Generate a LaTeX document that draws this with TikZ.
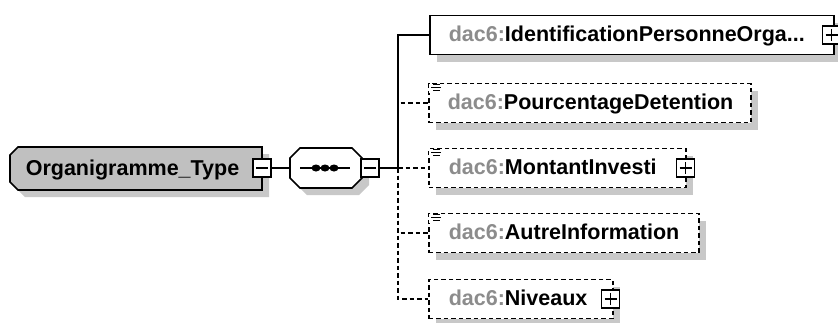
\documentclass[tikz,border=0pt]{standalone}
\usepackage{fontspec}
\setmainfont{Liberation Sans}
\usetikzlibrary{shadows}
\definecolor{prefixgray}{RGB}{140,140,140}
\definecolor{rootgray}{RGB}{192,192,192}
\definecolor{shadowgray}{RGB}{200,200,200}
\newcommand{\dac}[1]{{\color{prefixgray}dac6:}#1}

\begin{document}
\begin{tikzpicture}[x=1pt, y=-1pt, line width=1.6pt,
  every node/.style={font=\bfseries\fontsize{21.5}{24}\selectfont},
  boxshadow/.style={general shadow={fill=shadowgray, shadow xshift=7pt, shadow yshift=-7pt}},
  elem/.style={draw, fill=white, boxshadow, minimum height=39pt, inner sep=0pt, anchor=west},
  optelem/.style={elem, dash pattern=on 4.5pt off 3pt},
  eltext/.style={anchor=base west, inner sep=0pt},
  togglebox/.style={draw, fill=white, minimum size=18pt, inner sep=0pt},
  minusbox/.style={togglebox, path picture={\draw ([xshift=3pt]path picture bounding box.west) -- ([xshift=-3pt]path picture bounding box.east);}},
  plusbox/.style={togglebox, path picture={\draw ([xshift=3pt]path picture bounding box.west) -- ([xshift=-3pt]path picture bounding box.east); \draw ([yshift=3pt]path picture bounding box.south) -- ([yshift=-3pt]path picture bounding box.north);}},
  dashedline/.style={dash pattern=on 4.5pt off 3pt}]
  \useasboundingbox (0,0) rectangle (838,322);

  \draw[fill=rootgray, boxshadow] (18,147) -- (262,147) -- (262,190) -- (18,190) -- (10,182) -- (10,155) -- cycle;
  \node[eltext] (root) at (25,175) {Organigramme\_Type};
  \node[minusbox] (rootbox) at (262,168) {};

  \draw[fill=white, boxshadow] (300,148) -- (352,148) -- (362,158) -- (362,178) -- (352,188) -- (300,188) -- (290,178) -- (290,158) -- cycle;
  \coordinate (seqin) at (290,168);
  \coordinate (seqa) at (300,168);
  \coordinate (seqb) at (350,168);
  \draw (seqa) -- (seqb);
  \foreach \x in {316,325,334} \fill (\x,168) ellipse (4.5 and 3.5);
  \node[minusbox] (seqbox) at (370,168) {};
  \draw (rootbox) -- (seqin);

  \node[elem, minimum width=404pt] (ident) at (429,35) {};
  \node[optelem, minimum width=322pt] (pct) at (428,103) {};
  \node[optelem, minimum width=257pt] (montant) at (428,168) {};
  \node[optelem, minimum width=270pt] (autre) at (428,233) {};
  \node[optelem, minimum width=184pt] (niveaux) at (428,299) {};

  \node[eltext] (ident-t) at (448,41) {\dac{IdentificationPersonneOrga...}};
  \node[eltext] (pct-t) at (447,109) {\dac{PourcentageDetention}};
  \node[eltext] (montant-t) at (448,174) {\dac{MontantInvesti}};
  \node[eltext] (autre-t) at (448,239) {\dac{AutreInformation}};
  \node[eltext] (niveaux-t) at (448,305) {\dac{Niveaux}};

  \node[plusbox] (identbox) at ([xshift=-3pt]ident.east) {};
  \node[plusbox] (montantbox) at ([xshift=-1pt]montant.east) {};
  \node[plusbox] (niveauxbox) at ([xshift=-3pt]niveaux.east) {};

  \foreach \n in {pct, montant, autre} {
    \fill[white] ([shift={(1pt,-1pt)}]\n.north west) rectangle ([shift={(14pt,-10pt)}]\n.north west);
    \draw[line width=1.1pt] ([shift={(5pt,-2pt)}]\n.north west) -- ++(7pt,0pt)
      ([shift={(3pt,-5pt)}]\n.north west) -- ++(10pt,0pt)
      ([shift={(5pt,-8pt)}]\n.north west) -- ++(7pt,0pt);
  }

  \coordinate (fork) at (398,168);
  \draw (seqbox) -- (fork) |- (ident);
  \draw[dashedline] (fork) |- (pct);
  \draw[dashedline] (fork) -- (montant);
  \draw[dashedline] (fork) |- (autre);
  \draw[dashedline] (fork) |- (niveaux);
\end{tikzpicture}
\end{document}
